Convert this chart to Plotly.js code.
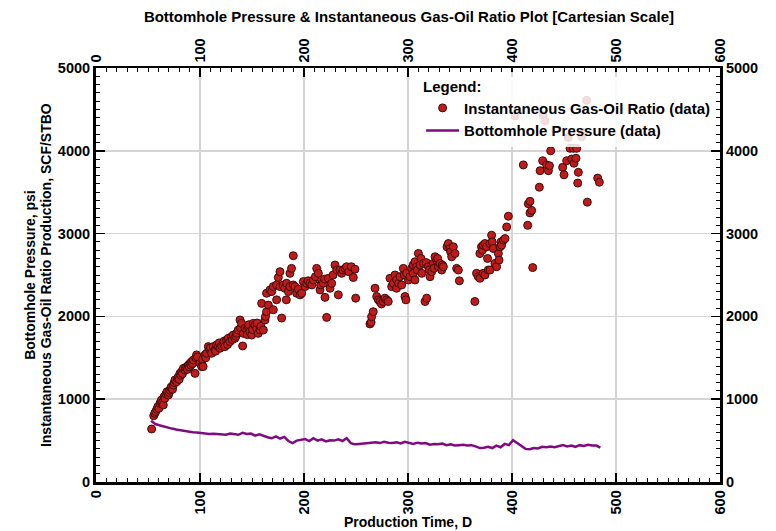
<!DOCTYPE html>
<html>
<head>
<meta charset="utf-8">
<script src="https://cdn.plot.ly/plotly-3.0.1.min.js"></script>
<style>html,body{margin:0;padding:0;background:#fff;}#chart{width:776px;height:531px;}</style>
</head>
<body>
<div id="chart"></div>
<script>
// Instantaneous Gas-Oil Ratio (data): production time (D) and GOR (SCF/STBO)
const gorDays = [
53.5,55.5,56.5,57.5,58.5,59.5,60.5,61.5,62.5,63,64,64.7,65.4,66.2,67.3,68.2,69.6,70.4,71.1,72,72.7,73.6,74.4,75.2,76,77.6,78.4,79.2,80,80.8,81.6,82.4,83.2,84,85.6,86.4,87.2,88,88.8,89.6,90.4,91.2,92,92.8,93.6,95.2,96,96.7,97.5,
99.9,101.6,102.5,103,104.8,105.5,106.4,108,109.6,110,111.2,112.8,114.4,115,116,117.6,118.5,119.2,120.8,122.4,123,124,125.6,126.5,127.2,128.8,130.4,131,132,133.6,134.5,135.2,136.8,138.5,139,140,141,141.7,143.3,144.9,145.5,146.5,147,148,149.7,150.5,151.3,152.9,154.5,155,156,157.7,158.5,159.3,160.9,162.5,163,164,165.7,166.7,
164,167.3,169,170.5,170.5,173.7,173.7,175.3,176.9,177,178.5,180,181.5,183,183.3,185,186.5,186.5,188,189.7,189.7,191.3,192.9,194.5,196.2,197.8,199.4,201,202.6,204,205.8,207.5,209,211,212.2,213.8,215.4,216,217,218.6,220,220.2,221.8,223.4,225,226.6,228,229.8,231.4,233,234.6,236.2,237.5,239.5,241,243,245.5,247.4,249,249.7,
263.4,264.5,265,266.6,268.3,269.9,271.5,273,274.5,276.3,277.8,279.5,281,282.7,284.3,285.9,287.5,289,289.1,291,292.3,293.9,295.5,296.5,297.1,298,298.7,300.5,301.9,303.5,305,305.1,306.7,306.7,308.4,309,310,311.6,312.5,313.2,314.8,316.4,317.5,318,319.6,320.5,321.2,322.8,324.4,325,326,327.6,328.5,329.2,330.8,332.4,333,334,337.5,338.8,340.4,341,342,343.6,345.2,346.8,348.4,349.4,
364.3,365.9,367.6,369.1,369.2,370.7,371.5,372.3,372.3,374,374,375.6,376.5,377.2,378.8,378.8,380.4,381,382,383.6,385.2,386.9,387.5,388.5,389.5,390,391.7,393.3,394.9,396.5,
403,410.9,415.1,415.7,417.3,417.3,418.9,419.9,426.3,427,429.5,430,431.7,433.3,435,436,437.2,448.7,450,452.6,454,455.8,457.4,459,459.6,461.5,462.2,463.2,463.8,467,468.6,471.8,472.4,482.4,484
];
const gorValues = [
640,800,830,850,880,910,890,950,970,990,960,930,1030,1010,1063,1090,1050,1080,1110,1140,1151,1120,1171,1200,1232,1211,1250,1272,1240,1312,1290,1332,1310,1372,1352,1380,1392,1360,1412,1390,1433,1410,1453,1430,1473,1312,1500,1535,1510,
1434,1394,1480,1394,1535,1500,1555,1635,1595,1620,1555,1635,1595,1580,1655,1635,1680,1615,1643,1675,1700,1635,1715,1660,1735,1695,1755,1720,1775,1735,1760,1795,1835,1957,1860,1916,1643,1795,1856,1835,1780,1876,1900,1815,1775,1840,1916,1896,1856,1920,1795,1835,1880,2157,1835,1957,2000,2057,2137,2298,
2280,2320,2300,2360,2080,2380,2200,2470,2540,2360,1980,2380,2340,2200,2400,2300,2520,2360,2580,2733,2380,2360,2280,2330,2260,2280,2420,2360,2400,2430,2400,2380,2440,2480,2580,2520,2320,2380,2440,2400,2450,2230,1988,2460,2340,2400,2500,2620,2560,2260,2560,2520,2560,2580,2600,2540,2600,2470,2570,2220,
1909,1930,1997,2057,2340,2240,2200,2180,2150,2180,2220,2200,2180,2460,2360,2400,2500,2340,2440,2400,2480,2380,2580,2500,2240,2200,2520,2440,2480,2580,2620,2520,2660,2440,2600,2560,2760,2620,2700,2520,2640,2180,2650,2220,2600,2560,2480,2540,2640,2580,2720,2680,2700,2600,2640,2560,2620,2600,2840,2880,2820,2780,2720,2840,2760,2580,2560,2430,
2180,2520,2480,2760,2460,2840,2800,2860,2520,2500,2880,2840,2700,2560,2880,2560,2980,2900,2820,2640,2600,2760,2680,2840,2900,2860,2920,2940,3080,3210,
4420,3830,3100,3360,3390,3250,3280,2590,3560,3760,3880,4430,4360,3830,3760,3820,4000,3800,3710,3880,4160,4030,3900,4030,3850,3910,4030,3610,3740,4170,4220,4610,3380,3670,3620
];

// Bottomhole Pressure (data): production time (D) and pressure (psi)
const bhpDays = [
53,57,61,65,69,73,77,81,85,89,93,97,101,105,109,113,117,121,125,129,133,137,141,145,149,153,157,161,165,169,173,177,181,185,189,193,197,201,205,209,213,217,221,225,229,233,237,241,245,249,253,257,261,265,269,273,277,281,285,289,293,297,301,305,309,313,317,321,325,329,333,337,341,345,349,353,357,361,365,369,373,377,381,385,389,393,397,401,405,409,413,417,421,425,429,433,437,441,445,449,453,457,461,465,469,473,477,481,485
];
const bhpValues = [
740,700,685,670,655,645,635,625,615,610,600,598,590,585,580,583,578,580,572,585,575,570,595,580,585,560,575,555,540,528,550,525,545,495,470,500,510,520,495,530,500,515,490,505,500,515,495,530,470,455,460,465,470,470,480,470,485,475,470,480,465,485,470,460,475,465,470,450,460,455,465,445,455,440,445,450,440,445,430,410,415,425,410,440,420,460,445,505,470,430,400,395,410,405,425,420,430,420,435,445,430,440,425,445,435,450,440,440,415
];

const titleText = 'Bottomhole Pressure & Instantaneous Gas-Oil Ratio Plot [Cartesian Scale]';
const xTitle = 'Production Time, D';
const yTitleLines = ['Bottomhole Pressure, psi', 'Instantaneous Gas-Oil Ratio Production, SCF/STBO'];
const gorName = 'Instantaneous Gas-Oil Ratio (data)';
const bhpName = 'Bottomhole Pressure (data)';

const FONT = 'Liberation Sans, Arial, sans-serif';
const tickFont = {family: FONT, size: 14.5, color: '#000', weight: 'bold'};
const yTitleFont = {family: FONT, size: 14, color: '#000', weight: 'bold'};

const traces = [
  {
    type: 'scatter', mode: 'markers', name: gorName,
    x: gorDays, y: gorValues, xaxis: 'x', yaxis: 'y',
    marker: {size: 8, color: '#c01b1b', line: {color: '#3c0c0c', width: 1}}
  },
  {
    type: 'scatter', mode: 'lines', name: bhpName,
    x: bhpDays, y: bhpValues, xaxis: 'x2', yaxis: 'y2',
    line: {color: '#800a80', width: 2.5}
  }
];

const commonX = {
  range: [0, 600], tick0: 0, dtick: 100, ticks: 'inside', ticklen: 9, tickwidth: 1.5,
  tickcolor: '#000', showline: true, linecolor: '#000', linewidth: 2.5, zeroline: false,
  tickangle: -90, tickfont: tickFont, fixedrange: true,
  minor: {dtick: 10, ticks: 'inside', ticklen: 4, tickwidth: 1, tickcolor: '#000', showgrid: false}
};
const commonY = {
  range: [0, 5000], tick0: 0, dtick: 1000, ticks: 'inside', ticklen: 9, tickwidth: 1.5,
  tickcolor: '#000', showline: true, linecolor: '#000', linewidth: 3, zeroline: false,
  tickfont: tickFont, fixedrange: true,
  minor: {dtick: 100, ticks: 'inside', ticklen: 4, tickwidth: 1, tickcolor: '#000', showgrid: false}
};

const layout = {
  width: 776, height: 531,
  margin: {l: 96, r: 56, t: 68, b: 49, pad: 0},
  paper_bgcolor: '#fff', plot_bgcolor: '#fff',
  font: {family: FONT, color: '#000'},
  title: {text: titleText, font: {family: FONT, size: 15, weight: 'bold', color: '#000'},
          x: 0.527, xanchor: 'center', y: 0.968, yanchor: 'middle'},
  showlegend: true,
  legend: {
    x: 0.521, y: 0.99, xanchor: 'left', yanchor: 'top',
    bgcolor: 'rgba(255,255,255,0.85)', borderwidth: 0,
    font: {family: FONT, size: 15, weight: 'bold', color: '#000'},
    title: {text: 'Legend:', font: {family: FONT, size: 15, weight: 'bold', color: '#000'}},
    itemwidth: 33, tracegroupgap: 0
  },
  xaxis: Object.assign({}, commonX, {
    side: 'bottom', anchor: 'y',
    showgrid: true, gridcolor: '#d4d4d4', gridwidth: 1.5,
    title: {text: xTitle, font: {family: FONT, size: 14, weight: 'bold', color: '#000'}, standoff: 3}
  }),
  xaxis2: Object.assign({}, commonX, {
    side: 'top', anchor: 'y2', overlaying: 'x', showgrid: false
  }),
  yaxis: Object.assign({}, commonY, {
    side: 'left', anchor: 'x',
    showgrid: true, gridcolor: '#d4d4d4', gridwidth: 1.5
  }),
  yaxis2: Object.assign({}, commonY, {
    side: 'right', anchor: 'x2', overlaying: 'y', showgrid: false
  }),
  annotations: [
    {text: yTitleLines[0], font: yTitleFont, textangle: -90, showarrow: false,
     xref: 'paper', yref: 'paper', x: -0.106, y: 0.5, xanchor: 'center', yanchor: 'middle'},
    {text: yTitleLines[1], font: yTitleFont, textangle: -90, showarrow: false,
     xref: 'paper', yref: 'paper', x: -0.080, y: 0.5, xanchor: 'center', yanchor: 'middle'}
  ]
};

Plotly.newPlot('chart', traces, layout, {displayModeBar: false, staticPlot: true});
</script>
</body>
</html>
